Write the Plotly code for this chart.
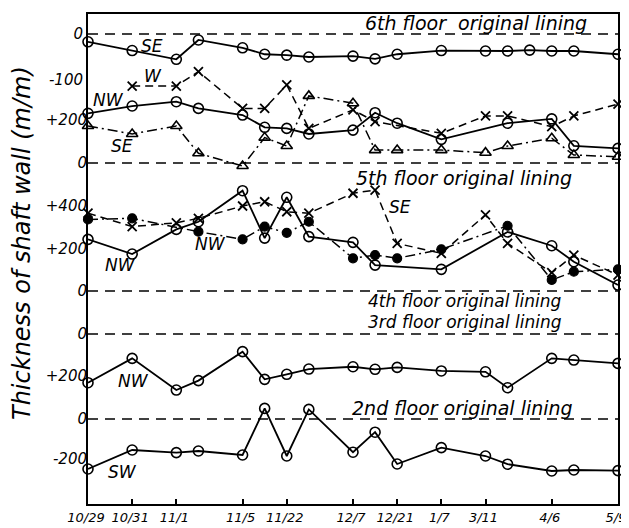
import plotly.graph_objects as go

# ---------------- data ----------------
date_labels = ["10/29", "10/31", "11/1", "11/5", "11/22", "12/7", "12/21", "1/7", "3/11", "4/6", "5/9"]
date_index = [0, 2, 4, 7, 9, 12, 14, 16, 18, 21, 24]

# 6th floor panel
f6_se_top_x = [0, 2, 4, 5, 7, 8, 9, 10, 12, 13, 14, 16, 18, 19, 20, 21, 22, 24]
f6_se_top_y = [-17, -36, -55, -13, -30, -44, -46, -50, -48, -54, -44, -36, -37, -37, -35, -37, -37, -44]

f6_w_x = [2, 4, 5, 7, 8, 9, 10, 12, 13, 16, 18, 19, 21, 22, 24]
f6_w_y = [358, 358, 425, 254, 254, 363, 161, 247, 192, 138, 219, 219, 169, 219, 274]

f6_nw_x = [0, 2, 4, 5, 7, 8, 9, 10, 12, 13, 14, 16, 19, 21, 22, 24]
f6_nw_y = [231, 265, 285, 254, 223, 166, 161, 135, 153, 234, 185, 110, 185, 205, 80, 68]

f6_se_x = [0, 2, 4, 5, 7, 8, 9, 10, 12, 13, 14, 16, 18, 19, 21, 22, 24]
f6_se_y = [172, 135, 172, 45, -14, 118, 79, 312, 278, 60, 60, 60, 48, 79, 115, 37, 29]

# 4th/5th floor panel
f4_nw_x = [0, 2, 4, 5, 7, 8, 9, 10, 12, 13, 16, 19, 21, 22, 24]
f4_nw_y = [243, 174, 290, 326, 472, 249, 441, 256, 229, 122, 102, 278, 213, 138, 28]

f4_se_x = [0, 2, 4, 5, 7, 8, 9, 10, 12, 13, 14, 16, 18, 19, 21, 22, 24]
f4_se_y = [366, 303, 321, 342, 400, 420, 373, 366, 460, 475, 224, 177, 358, 224, 86, 169, 75]

f4_nw2_x = [0, 2, 5, 7, 8, 9, 10, 12, 13, 14, 16, 19, 21, 22, 24]
f4_nw2_y = [337, 342, 279, 243, 303, 274, 326, 154, 169, 154, 196, 307, 52, 91, 102]

# 3rd floor panel
f3_nw_x = [0, 2, 4, 5, 7, 8, 9, 10, 12, 13, 14, 16, 18, 19, 21, 22, 24]
f3_nw_y = [232, 116, 267, 222, 84, 216, 192, 167, 156, 168, 159, 176, 180, 256, 116, 124, 140]

# 2nd floor panel
f2_sw_x = [0, 2, 4, 5, 7, 8, 9, 10, 12, 13, 14, 16, 18, 19, 21, 22, 24]
f2_sw_y = [-250, -155, -168, -160, -180, 53, -185, 48, -166, -66, -225, -143, -185, -226, -260, -255, -258]

# ---------------- layout helpers ----------------
OFF = 8                      # page body margin
W, H = 629 - OFF, 528 - OFF  # figure size
X0, X1, Y0, Y1 = 88, 618, 14, 504   # plot area in page pixels
L, T = X0 - OFF, Y0 - OFF
R, B = W - (X1 - OFF), H - (Y1 - OFF)
FONT = "DejaVu Sans, Liberation Sans, sans-serif"


def yrange(p0, s, rev=False):
    lo = -(Y1 - p0) / s
    hi = (p0 - Y0) / s
    return [-lo, -hi] if rev else [lo, hi]


def px(x):
    return (x - X0) / (X1 - X0)


def py(y):
    return (Y1 - y) / (Y1 - Y0)


fig = go.Figure()

circ = dict(symbol="circle-open", size=10, color="black", line=dict(width=1.6, color="black"))
xm = dict(symbol="x-thin-open", size=9, color="black", line=dict(width=1.8, color="black"))
tri = dict(symbol="triangle-up-open", size=10, color="black", line=dict(width=1.6, color="black"))
fill = dict(symbol="circle", size=9, color="black", line=dict(width=1.2, color="black"))

solid = dict(color="black", width=1.8)
dashed = dict(color="black", width=1.5, dash="8px,5px")
dashdot = dict(color="black", width=1.5, dash="10px,4px,2px,4px")


def add(x, y, yaxis, marker, line):
    fig.add_trace(go.Scatter(x=x, y=y, yaxis=yaxis, mode="lines+markers",
                             marker=marker, line=line, cliponaxis=False,
                             showlegend=False, hoverinfo="skip"))


add(f6_se_top_x, f6_se_top_y, "y", circ, solid)
add(f6_w_x, f6_w_y, "y2", xm, dashed)
add(f6_se_x, f6_se_y, "y2", tri, dashdot)
add(f6_nw_x, f6_nw_y, "y2", circ, solid)
add(f4_se_x, f4_se_y, "y3", xm, dashed)
add(f4_nw2_x, f4_nw2_y, "y3", fill, dashdot)
add(f4_nw_x, f4_nw_y, "y3", circ, solid)
add(f3_nw_x, f3_nw_y, "y4", circ, solid)
add(f2_sw_x, f2_sw_y, "y5", circ, solid)

tickfont = dict(family=FONT, size=15, color="black", style="italic")

common_y = dict(showgrid=False, zeroline=False, ticks="", tickfont=tickfont,
                fixedrange=True, automargin=False)

fig.update_layout(
    width=W, height=H,
    margin=dict(l=L, r=R, t=T, b=B, autoexpand=False),
    paper_bgcolor="white", plot_bgcolor="white",
    xaxis=dict(range=[0, 24], showgrid=False, zeroline=False, showline=True, mirror=True,
               linecolor="black", linewidth=2, ticks="inside", ticklen=5, tickwidth=1.5,
               tickcolor="black", tickvals=date_index, ticktext=date_labels, automargin=False,
               ticklabeloverflow="allow", ticklabelshift=-2,
               tickfont=dict(family=FONT, size=13, color="black", style="italic")),
    yaxis=dict(range=yrange(34, 0.46), tickvals=[0, -100], ticktext=["0", "-100"],
               showline=True, mirror=True, linecolor="black", linewidth=2, **common_y),
    yaxis2=dict(range=yrange(163, 0.215), tickvals=[200, 0], ticktext=["+200", "0"],
                overlaying="y", anchor="x", side="left", showline=False, **common_y),
    yaxis3=dict(range=yrange(291, 0.2125), tickvals=[400, 200, 0], ticktext=["+400", "+200", "0"],
                overlaying="y", anchor="x", side="left", showline=False, **common_y),
    yaxis4=dict(range=yrange(334, 0.21, rev=True), tickvals=[0, 200], ticktext=["0", "+200"],
                overlaying="y", anchor="x", side="left", showline=False, **common_y),
    yaxis5=dict(range=yrange(419, 0.2), tickvals=[0, -200], ticktext=["0", "-200"],
                overlaying="y", anchor="x", side="left", showline=False, **common_y),
)

# dashed "original lining" baselines
for ref in ["y", "y2", "y3", "y4", "y5"]:
    fig.add_shape(type="line", xref="paper", x0=0, x1=1, yref=ref, y0=0, y1=0,
                  line=dict(color="black", width=1.6, dash="10px,7px"))

labels = [
    ("6th floor  original lining", 476, 23, 19),
    ("5th floor original lining", 464, 178, 19),
    ("4th floor original lining", 465, 301, 17),
    ("3rd floor original lining", 465, 322, 17),
    ("2nd floor original lining", 462, 408, 19),
    ("SE", 152, 46, 17),
    ("W", 153, 76, 17),
    ("NW", 108, 100, 17),
    ("SE", 122, 146, 17),
    ("SE", 400, 207, 17),
    ("NW", 210, 244, 17),
    ("NW", 120, 265, 17),
    ("NW", 133, 381, 17),
    ("SW", 122, 472, 17),
]
for text, x, y, size in labels:
    fig.add_annotation(text=text, xref="paper", yref="paper", x=px(x), y=py(y),
                       xanchor="center", yanchor="middle", showarrow=False,
                       font=dict(family=FONT, size=size, color="black", style="italic"))

fig.add_annotation(text="Thickness of shaft wall (m/m)", xref="paper", yref="paper",
                   x=px(22), y=py(243), xanchor="center", yanchor="middle", textangle=-90,
                   showarrow=False,
                   font=dict(family=FONT, size=24, color="black", style="italic"))

fig.write_html("out.html")
